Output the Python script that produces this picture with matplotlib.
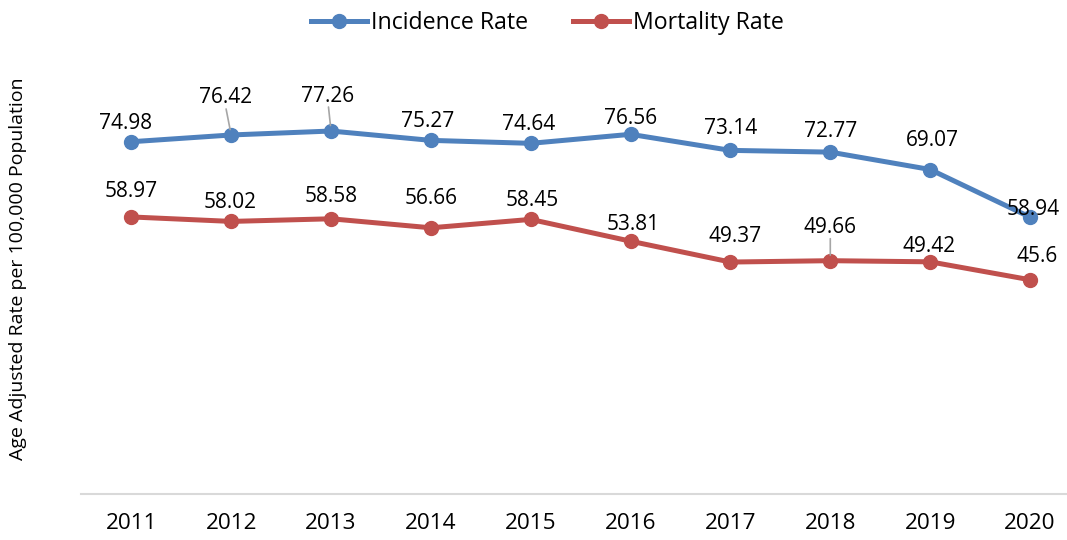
import matplotlib
matplotlib.use("Agg")
import matplotlib.pyplot as plt

plt.rcParams['font.family'] = ['Open Sans', 'DejaVu Sans']

years = ['2011', '2012', '2013', '2014', '2015', '2016', '2017', '2018', '2019', '2020']
incidence = [74.98, 76.42, 77.26, 75.27, 74.64, 76.56, 73.14, 72.77, 69.07, 58.94]
mortality = [58.97, 58.02, 58.58, 56.66, 58.45, 53.81, 49.37, 49.66, 49.42, 45.6]

# label offsets in pixels (dx, dy); True = leader line
inc_off = [(-6, 18, False), (-6, 37, True), (-3, 35, True), (-3, 19, False), (-2, 19, False),
           (0, 16, False), (0, 22, False), (0, 21, False), (2, 29, False), (3, 8, False)]
mor_off = [(0, 25, False), (-1, 19, False), (0, 22, False), (0, 29, False), (2, 19, False),
           (3, 17, False), (5, 26, False), (0, 33, True), (-1, 15, False), (7, 23, False)]

blue = '#4F81BD'
red = '#C0504D'

fig = plt.figure(figsize=(10.67, 5.4), dpi=100)
ax = fig.add_axes([0.0763, 0.0852, 0.9358, 0.870])

x = range(len(years))
ax.plot(x, incidence, color=blue, lw=3.6, marker='o', ms=10, label='Incidence Rate', zorder=3)
ax.plot(x, mortality, color=red, lw=3.6, marker='o', ms=10, label='Mortality Rate', zorder=3)

for series, offs in ((incidence, inc_off), (mortality, mor_off)):
    for i, (v, (dx, dy, lead)) in enumerate(zip(series, offs)):
        ax.annotate(f'{v:g}', (i, v), xytext=(dx, dy), textcoords='offset pixels',
                    ha='center', va='center', fontsize=15, color='#000000', zorder=4)
        if lead:
            ax.annotate('', (i, v), xytext=(dx * 0.85, dy - 11), textcoords='offset pixels',
                        xycoords='data',
                        arrowprops=dict(arrowstyle='-', color='#A6A6A6', lw=1.2,
                                        shrinkA=0, shrinkB=4))

ax.set_xlim(-0.5, len(years) - 0.5)
ax.set_ylim(0, 100)
ax.set_xticks(list(x))
ax.set_xticklabels(years, fontsize=16.2)
ax.tick_params(axis='x', length=0, pad=14)
ax.set_yticks([])
for s in ('top', 'right', 'left'):
    ax.spines[s].set_visible(False)
ax.spines['bottom'].set_color('#D9D9D9')
ax.spines['bottom'].set_linewidth(1.5)

fig.text(0.017, 0.503, 'Age Adjusted Rate per 100,000 Population', rotation=90,
         ha='center', va='center', fontsize=14)

fig.legend(loc='center', bbox_to_anchor=(0.513, 0.957), ncol=2, frameon=False,
           fontsize=16.7, handlelength=2.4, handletextpad=0.17, columnspacing=1.94)

fig.savefig('out.png', dpi=100)
